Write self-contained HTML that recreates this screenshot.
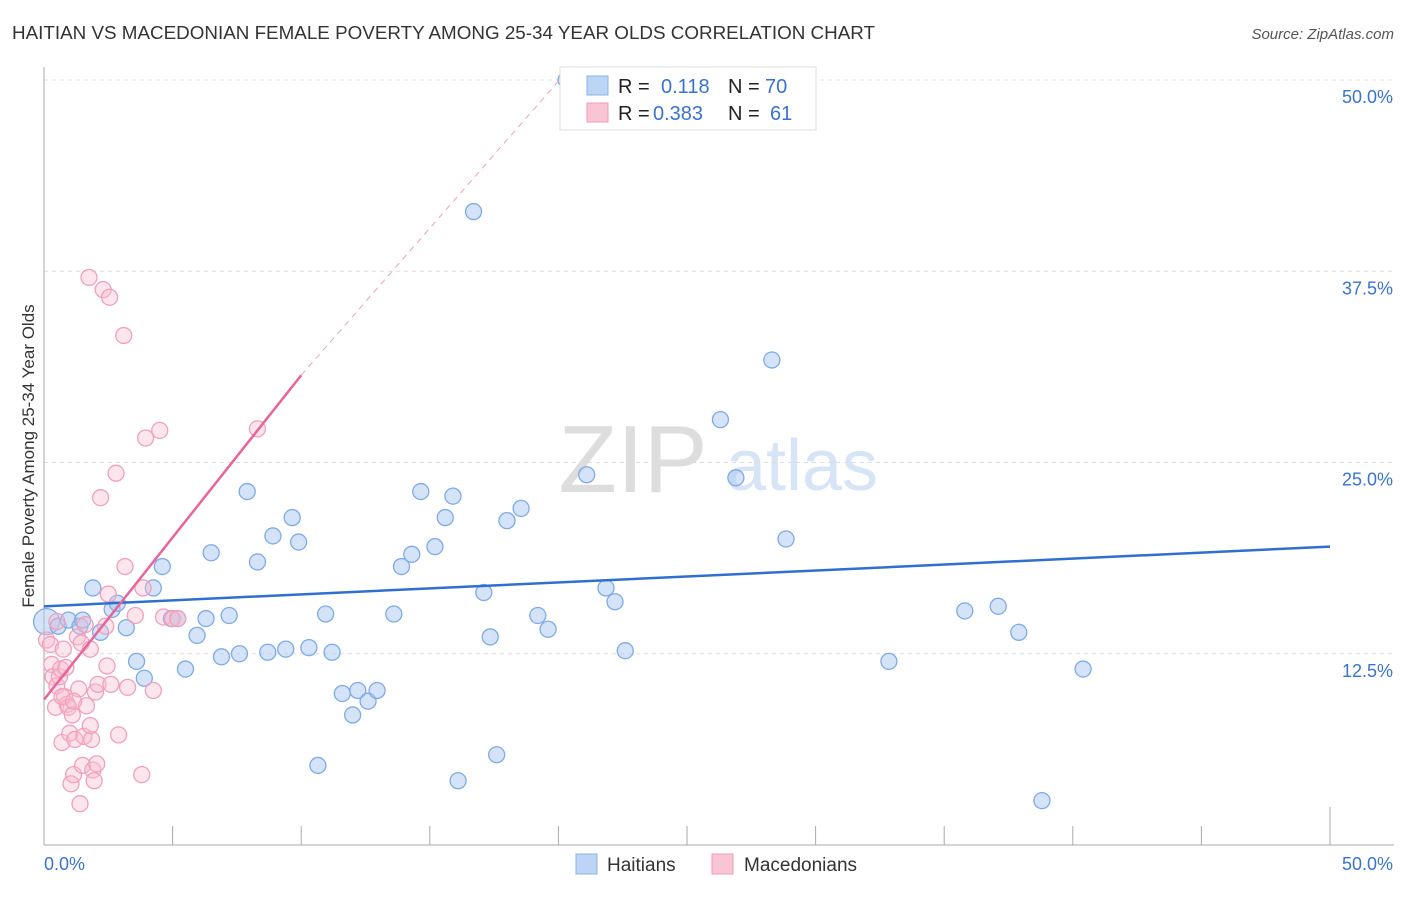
<!DOCTYPE html>
<html><head><meta charset="utf-8"><style>
body{margin:0;background:#fff;font-family:"Liberation Sans",sans-serif}
svg text{font-family:"Liberation Sans",sans-serif}
</style></head><body>
<svg id="c" width="1406" height="892" xmlns="http://www.w3.org/2000/svg">
<text x="12" y="39" font-size="18" fill="#333" textLength="863" lengthAdjust="spacingAndGlyphs">HAITIAN VS MACEDONIAN FEMALE POVERTY AMONG 25-34 YEAR OLDS CORRELATION CHART</text>
<text x="1394" y="39" font-size="15" fill="#555" font-style="italic" text-anchor="end">Source: ZipAtlas.com</text>
<text transform="translate(34,456) rotate(-90)" font-size="17" fill="#333" text-anchor="middle">Female Poverty Among 25-34 Year Olds</text>
<g><text x="633" y="492" font-size="96" fill="#ddd" font-family="Liberation Serif" text-anchor="middle">ZIP</text><text x="802" y="490" font-size="72" fill="#d6e4f5" text-anchor="middle">atlas</text></g>
<g id="grid"></g><g id="axes"></g><g id="pts"></g><g id="trends"></g>
<g>
<rect x="560" y="67" width="256" height="63" fill="#fff" stroke="#ddd"/>
<rect x="587" y="76" width="21" height="19" fill="#bcd5f5" stroke="#8ab3e8"/>
<rect x="587" y="103" width="21" height="19" fill="#f9c4d4" stroke="#f09ab5"/>
<text x="618" y="93" font-size="20" fill="#222">R =</text><text x="661" y="93" font-size="20" fill="#3a72d0">0.118</text>
<text x="728" y="93" font-size="20" fill="#222">N =</text><text x="765" y="93" font-size="20" fill="#3a72d0">70</text>
<text x="618" y="120" font-size="20" fill="#222">R =</text><text x="653" y="120" font-size="20" fill="#3a72d0">0.383</text>
<text x="728" y="120" font-size="20" fill="#222">N =</text><text x="770" y="120" font-size="20" fill="#3a72d0">61</text>
</g>
<g>
<rect x="576" y="854" width="21" height="20" fill="#bcd5f5" stroke="#8ab3e8"/><text x="607" y="871" font-size="19" fill="#333">Haitians</text>
<rect x="712" y="854" width="21" height="20" fill="#f9c4d4" stroke="#f09ab5"/><text x="744" y="871" font-size="19" fill="#333">Macedonians</text>
</g>
</svg>
<script>
const yTicks=[12.5,25,37.5,50];
const yTickLabels=["12.5%","25.0%","37.5%","50.0%"];
const xEndLabels=["0.0%","50.0%"];
const haitianX=[0.1,0.55,0.95,1.4,1.5,1.9,2.2,2.65,2.85,3.2,3.6,3.9,4.25,4.6,4.95,5.2,5.5,5.95,6.3,6.5,6.9,7.2,7.6,7.9,8.3,8.7,8.9,9.4,9.65,9.9,10.3,10.65,10.95,11.2,11.6,12.0,12.2,12.6,12.95,13.6,13.9,14.3,14.65,15.2,15.6,15.9,16.1,16.7,17.1,17.35,17.6,18.0,18.55,19.2,19.6,20.3,21.1,21.85,22.2,22.6,26.3,26.9,28.3,28.85,32.85,35.8,37.1,37.9,38.8,40.4];
const haitianY=[14.6,14.3,14.7,14.3,14.7,16.8,13.9,15.4,15.8,14.2,12.0,10.9,16.8,18.2,14.8,14.8,11.5,13.7,14.8,19.1,12.3,15.0,12.5,23.1,18.5,12.6,20.2,12.8,21.4,19.8,12.9,5.2,15.1,12.6,9.9,8.5,10.1,9.4,10.1,15.1,18.2,19.0,23.1,19.5,21.4,22.8,4.2,41.4,16.5,13.6,5.9,21.2,22.0,15.0,14.1,50.0,24.2,16.8,15.9,12.7,27.8,24.0,31.7,20.0,12.0,15.3,15.6,13.9,2.9,11.5];
const macedonianX=[0.1,0.25,0.3,0.35,0.45,0.5,0.6,0.65,0.7,0.75,0.8,0.85,0.9,0.95,1.0,1.05,1.1,1.15,1.2,1.3,1.35,1.4,1.45,1.5,1.55,1.6,1.65,1.75,1.8,1.85,1.9,1.95,2.0,2.05,2.1,2.2,2.3,2.4,2.45,2.5,2.55,2.8,2.9,3.1,3.15,3.25,3.55,3.8,3.85,3.95,4.25,4.5,4.65,5.0,5.2,8.3,0.5,0.7,1.15,1.8,2.6];
const macedonianY=[13.4,13.1,11.8,11.0,9.0,10.4,11.0,11.5,6.7,12.8,9.7,11.6,9.2,9.0,7.3,4.0,8.5,4.6,6.9,13.6,10.2,2.7,13.2,5.2,7.1,14.4,9.1,37.1,12.8,6.9,4.9,4.2,10.0,5.3,10.5,22.7,36.3,14.3,11.7,16.4,35.8,24.3,7.2,33.3,18.2,10.3,15.0,4.6,16.8,26.6,10.1,27.1,14.9,14.8,14.8,27.2,14.6,9.7,9.4,7.8,10.5];
const blueTrend=[[0,15.6],[50,19.5]];
const pinkTrend=[[0,9.5],[10,30.7]];
const pinkDash=[[10,30.7],[20.3,50.5]];
const NS="http://www.w3.org/2000/svg";
const X=v=>44+v/50*1286, Y=v=>845-v/50*765;
function mk(p,t,a){const e=document.createElementNS(NS,t);for(const k in a)e.setAttribute(k,a[k]);document.getElementById(p).appendChild(e);return e;}
yTicks.forEach((t,i)=>{
 const g=mk('grid','line',{x1:44,x2:1394,y1:Y(t),y2:Y(t),stroke:'#ddd','stroke-dasharray':'4,4'});
 
 
 const l=mk('grid','text',{x:1393,y:Y(t)+23,'font-size':18,fill:'#3a72d0','text-anchor':'end'});
 l.textContent=yTickLabels[i];
 
 
});
let a=mk('axes','line',{x1:44,x2:44,y1:67,y2:845,stroke:'#aaa'});


a=mk('axes','line',{x1:44,x2:1394,y1:845,y2:845,stroke:'#aaa'});


for(let i=1;i<=10;i++){const t=mk('axes','line',{x1:X(i*5),x2:X(i*5),y1:i==10?807:826,y2:845,stroke:'#aaa'});
 
 }
let xl=mk('axes','text',{x:44,y:870,'font-size':18,fill:'#3a72d0'});xl.textContent=xEndLabels[0];


xl=mk('axes','text',{x:1393,y:870,'font-size':18,fill:'#3a72d0','text-anchor':'end'});xl.textContent=xEndLabels[1];


haitianX.forEach((v,i)=>{const c=mk('pts','circle',{cx:X(v),cy:Y(haitianY[i]),r:i==0?13:8,fill:'rgba(170,200,240,0.5)',stroke:'#7faae6','stroke-width':1.3});
 
 });
macedonianX.forEach((v,i)=>{const c=mk('pts','circle',{cx:X(v),cy:Y(macedonianY[i]),r:8,fill:'rgba(248,190,208,0.4)',stroke:'#f0a0bd','stroke-width':1.3});
 
 });
let t=mk('trends','line',{x1:X(blueTrend[0][0]),y1:Y(blueTrend[0][1]),x2:X(blueTrend[1][0]),y2:Y(blueTrend[1][1]),stroke:'#2f6fd0','stroke-width':2.5});


t=mk('trends','line',{x1:X(pinkTrend[0][0]),y1:Y(pinkTrend[0][1]),x2:X(pinkTrend[1][0]),y2:Y(pinkTrend[1][1]),stroke:'#e8649a','stroke-width':2.5});


t=mk('trends','line',{x1:X(pinkDash[0][0]),y1:Y(pinkDash[0][1]),x2:X(pinkDash[1][0]),y2:Y(pinkDash[1][1]),stroke:'#f0a0bd','stroke-width':1,'stroke-dasharray':'6,5'});


</script>
</body></html>
